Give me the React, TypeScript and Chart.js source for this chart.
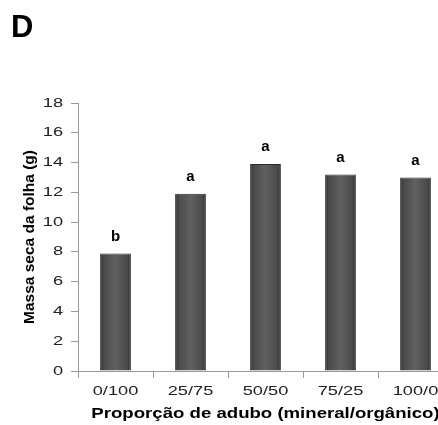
import React, { useEffect, useRef } from "react";
import { Chart, registerables } from "chart.js";

Chart.register(...registerables);

const categories = ["0/100", "25/75", "50/50", "75/25", "100/0"];
const massaSeca = [7.9, 11.9, 13.9, 13.2, 13.0];
const letters = ["b", "a", "a", "a", "a"];
const yTicks = [0, 2, 4, 6, 8, 10, 12, 14, 16, 18];
const panelLabel = "D";
const yTitle = "Massa seca da folha (g)";
const xTitle = "Proporção de adubo (mineral/orgânico)";

const FONT = "'Liberation Sans', Arial, sans-serif";
const BAR_PCT = 0.41;

// Draw a scale's text horizontally widened (the source figure's text is stretched)
function patchText(scale: any, method: string, sx: number, spacing: string) {
  const key = "__p_" + method;
  if (scale[key]) return;
  const orig = scale[method];
  scale[method] = function (...args: any[]) {
    const c = this.ctx;
    const origFill = c.fillText;
    const prevLS = c.letterSpacing;
    c.letterSpacing = spacing;
    c.fillText = function (text: string, x: number, y: number, mw?: number) {
      this.save();
      this.translate(x, y);
      this.scale(sx, 1);
      if (mw === undefined) origFill.call(this, text, 0, 0);
      else origFill.call(this, text, 0, 0, mw / sx);
      this.restore();
    };
    try {
      return orig.apply(this, args);
    } finally {
      delete c.fillText;
      c.letterSpacing = prevLS;
    }
  };
  scale[key] = true;
}

const textPlugin = {
  id: "stretchText",
  beforeDraw(chart: any) {
    const { x, y } = chart.scales;
    if (x) {
      patchText(x, "drawLabels", 1.4, "0px");
      patchText(x, "drawTitle", 1.2, "0px");
    }
    if (y) {
      patchText(y, "drawLabels", 1.4, "0px");
    }
  },
};

const annotatePlugin = {
  id: "annotate",
  afterDatasetsDraw(chart: any) {
    const { ctx } = chart;
    const meta = chart.getDatasetMeta(0);
    const yScale = chart.scales.y;
    ctx.save();
    ctx.fillStyle = "#000";
    ctx.font = `bold 15px ${FONT}`;
    ctx.textAlign = "center";
    ctx.textBaseline = "middle";
    meta.data.forEach((bar: any, i: number) => {
      const y = yScale.getPixelForValue(massaSeca[i]);
      ctx.fillText(letters[i], bar.x, y - 17);
    });
    ctx.font = `bold 31px ${FONT}`;
    ctx.textAlign = "left";
    ctx.textBaseline = "alphabetic";
    ctx.fillText(panelLabel, 11, 37);
    ctx.restore();
  },
};

function barFill(context: any) {
  const chart = context.chart;
  const xs = chart.scales && chart.scales.x;
  if (!xs || context.dataIndex === undefined || !chart.chartArea) return "#575757";
  const cx = xs.getPixelForValue(context.dataIndex);
  const half = (xs.width / categories.length) * BAR_PCT / 2;
  if (!isFinite(cx) || !isFinite(half) || half <= 0) return "#575757";
  const g = chart.ctx.createLinearGradient(cx - half, 0, cx + half, 0);
  g.addColorStop(0, "#2e2e2e");
  g.addColorStop(0.12, "#4a4a4a");
  g.addColorStop(0.5, "#616161");
  g.addColorStop(0.88, "#4a4a4a");
  g.addColorStop(1, "#2e2e2e");
  return g;
}

export default function App() {
  const ref = useRef<HTMLCanvasElement>(null);
  useEffect(() => {
    if (!ref.current) return;
    const chart = new Chart(ref.current, {
      type: "bar",
      data: {
        labels: categories,
        datasets: [
          {
            data: massaSeca,
            backgroundColor: barFill,
            borderColor: "#2a2a2a",
            borderWidth: 1,
            barPercentage: BAR_PCT,
            categoryPercentage: 1,
          },
        ],
      },
      options: {
        animation: false,
        responsive: false,
        layout: { padding: { top: 103, right: 17, left: 0, bottom: 0 } },
        plugins: { legend: { display: false }, tooltip: { enabled: false } },
        scales: {
          x: {
            grid: {
              display: true,
              drawOnChartArea: false,
              drawTicks: true,
              tickLength: 7,
              color: "#999",
              offset: true,
            },
            border: { color: "#999" },
            ticks: { color: "#222", font: { size: 13, family: FONT }, padding: 6 },
            title: {
              display: true,
              text: xTitle,
              color: "#000",
              font: { size: 15.5, weight: "bold", family: FONT },
              padding: { top: 0, bottom: 1.5 },
            },
            afterFit(scale: any) {
              scale.height = 54;
            },
          },
          y: {
            min: 0,
            max: 18,
            afterBuildTicks(scale: any) {
              scale.ticks = yTicks.map((v) => ({ value: v }));
            },
            grid: {
              display: true,
              drawOnChartArea: false,
              drawTicks: true,
              tickLength: 7,
              color: "#999",
            },
            border: { color: "#999" },
            ticks: { color: "#222", font: { size: 13, family: FONT }, padding: 8 },
            title: {
              display: true,
              text: yTitle,
              color: "#000",
              font: { size: 15.5, weight: "bold", family: FONT },
              padding: { top: 20.5, bottom: 0 },
            },
            afterFit(scale: any) {
              scale.width = 78;
            },
          },
        },
      },
      plugins: [textPlugin, annotatePlugin],
    });
    return () => chart.destroy();
  }, []);
  return (
    <div
      style={{
        position: "absolute",
        left: 0,
        top: 0,
        width: 438,
        height: 425,
        overflow: "hidden",
        background: "#fff",
      }}
    >
      <canvas ref={ref} width={470} height={425} style={{ display: "block" }} />
    </div>
  );
}
